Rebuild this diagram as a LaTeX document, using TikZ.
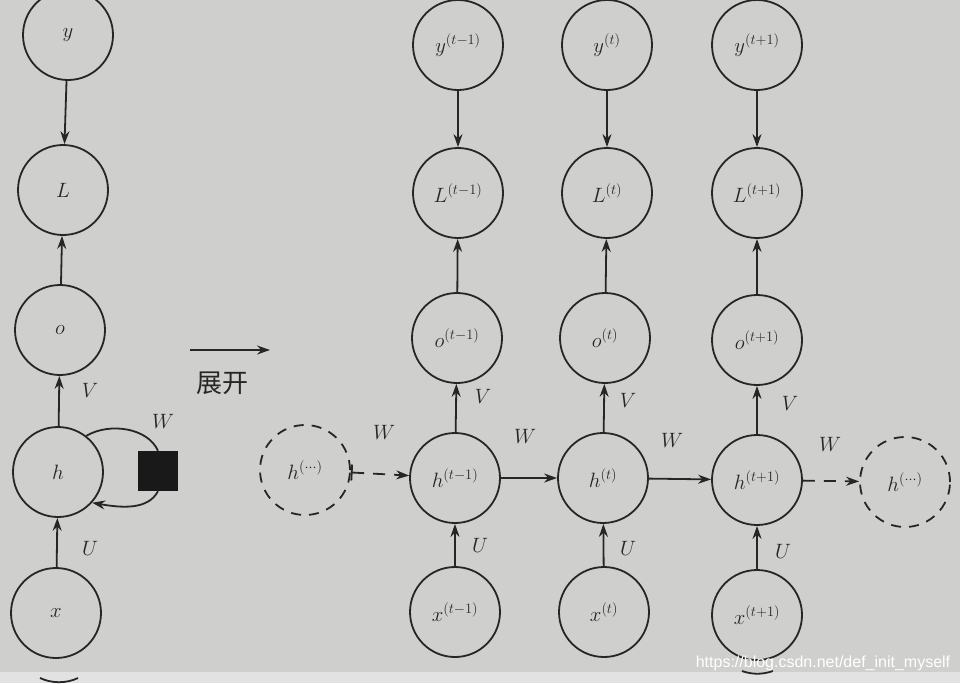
\documentclass[tikz,border=0pt]{standalone}
\usepackage{fontspec}
\newfontfamily\cjk{Noto Sans CJK SC}
\newfontfamily\wmfont{Liberation Sans}
\usetikzlibrary{arrows.meta}
\definecolor{paper}{RGB}{207,207,206}
\definecolor{paperlight}{RGB}{226,226,226}
\definecolor{ink}{RGB}{38,38,38}
\tikzset{
  unit/.style={circle,draw=ink,line width=1.8pt,minimum size=90pt,inner sep=0pt,text=ink,font=\fontsize{20}{22}\selectfont},
  ghost/.style={unit,dash pattern=on 10pt off 8pt},
  conn/.style={draw=ink,line width=1.8pt,-{Stealth[length=13pt,width=9pt]}},
  wlab/.style={text=ink,font=\fontsize{22}{24}\selectfont},
}
\begin{document}
\begin{tikzpicture}[x=1pt,y=-1pt]
\fill[paper] (0,0) rectangle (960,683);
\fill[paperlight] (0,672) rectangle (960,683);
\useasboundingbox (0,0) rectangle (960,683);
% left folded network
\node[unit] (y0) at (68,35) {$y$};
\node[unit] (L0) at (63,190) {$L$};
\node[unit] (o0) at (60,330) {$o$};
\node[unit] (h0) at (58,472) {$h$};
\node[unit] (x0) at (56,613) {$x$};
\node[fill=black!90,minimum size=40pt,inner sep=0pt] (sq) at (158,471) {};
\draw[conn] (y0) -- (L0);
\draw[conn] (o0) -- (L0);
\draw[conn] (h0) -- (o0);
\draw[conn] (x0) -- (h0);
\node[wlab] (v0) at (90,390) {$V$};
\node[wlab] (u0) at (90,548) {$U$};
\node[wlab] (w0) at (163,421) {$W$};
\draw[ink,line width=1.8pt] (h0.52) .. controls (110,422) and (148,428) .. (sq.north);
\draw[conn] (sq.south) .. controls (148,510) and (122,508) .. (h0.-42);
% unfold arrow
\coordinate (ua) at (190,350);
\coordinate (ub) at (270,350);
\draw[conn,line width=1.5pt] (ua) -- (ub);
\node[text=ink,font=\cjk\fontsize{26}{28}\selectfont] (zk) at (222,383) {展开};
% unfolded network
\node[unit] (y1) at (458,45) {$y^{(t-1)}$};
\node[unit] (L1) at (458,193) {$L^{(t-1)}$};
\node[unit] (o1) at (457,338) {$o^{(t-1)}$};
\node[unit] (h1) at (455,478) {$h^{(t-1)}$};
\node[unit] (x1) at (455,612) {$x^{(t-1)}$};
\node[unit] (y2) at (607,45) {$y^{(t)}$};
\node[unit] (L2) at (607,193) {$L^{(t)}$};
\node[unit] (o2) at (605,338) {$o^{(t)}$};
\node[unit] (h2) at (603,478) {$h^{(t)}$};
\node[unit] (x2) at (604,612) {$x^{(t)}$};
\node[unit] (y3) at (757,45) {$y^{(t+1)}$};
\node[unit] (L3) at (757,193) {$L^{(t+1)}$};
\node[unit] (o3) at (757,340) {$o^{(t+1)}$};
\node[unit] (h3) at (757,480) {$h^{(t+1)}$};
\node[unit] (x3) at (757,615) {$x^{(t+1)}$};
\node[ghost] (hl) at (305,470) {$h^{(\cdots)}$};
\node[ghost] (hr) at (905,482) {$h^{(\cdots)}$};
\foreach \i in {1,2,3}{
  \draw[conn] (y\i) -- (L\i);
  \draw[conn] (o\i) -- (L\i);
  \draw[conn] (h\i) -- (o\i);
  \draw[conn] (x\i) -- (h\i);
}
\draw[conn] (h1) -- (h2);
\draw[conn] (h2) -- (h3);
\draw[conn,dash pattern=on 12pt off 9pt,{Bar[width=16pt]}-{Stealth[length=13pt,width=9pt]}] (hl) -- (h1);
\draw[conn,dash pattern=on 12pt off 9pt] (h3) -- (hr);
\node[wlab] (v1) at (483,396) {$V$};
\node[wlab] (v2) at (628,400) {$V$};
\node[wlab] (v3) at (790,403) {$V$};
\node[wlab] (u1) at (480,545) {$U$};
\node[wlab] (u2) at (628,548) {$U$};
\node[wlab] (u3) at (783,551) {$U$};
\node[wlab] (w1) at (384,432) {$W$};
\node[wlab] (w2) at (525,436) {$W$};
\node[wlab] (w3) at (672,440) {$W$};
\node[wlab] (w4) at (830,444) {$W$};
% partial circles of the next row at the bottom edge
\draw[ink,line width=1.8pt] (40,678) arc[start angle=115,end angle=65,radius=45];
\draw[ink,line width=1.8pt] (742,671) arc[start angle=110,end angle=70,radius=45];
% watermark
\node[text=white,font=\wmfont\fontsize{16}{18}\selectfont] (wm) at (823,663) {https://blog.csdn.net/def\_init\_myself};
\end{tikzpicture}
\end{document}
